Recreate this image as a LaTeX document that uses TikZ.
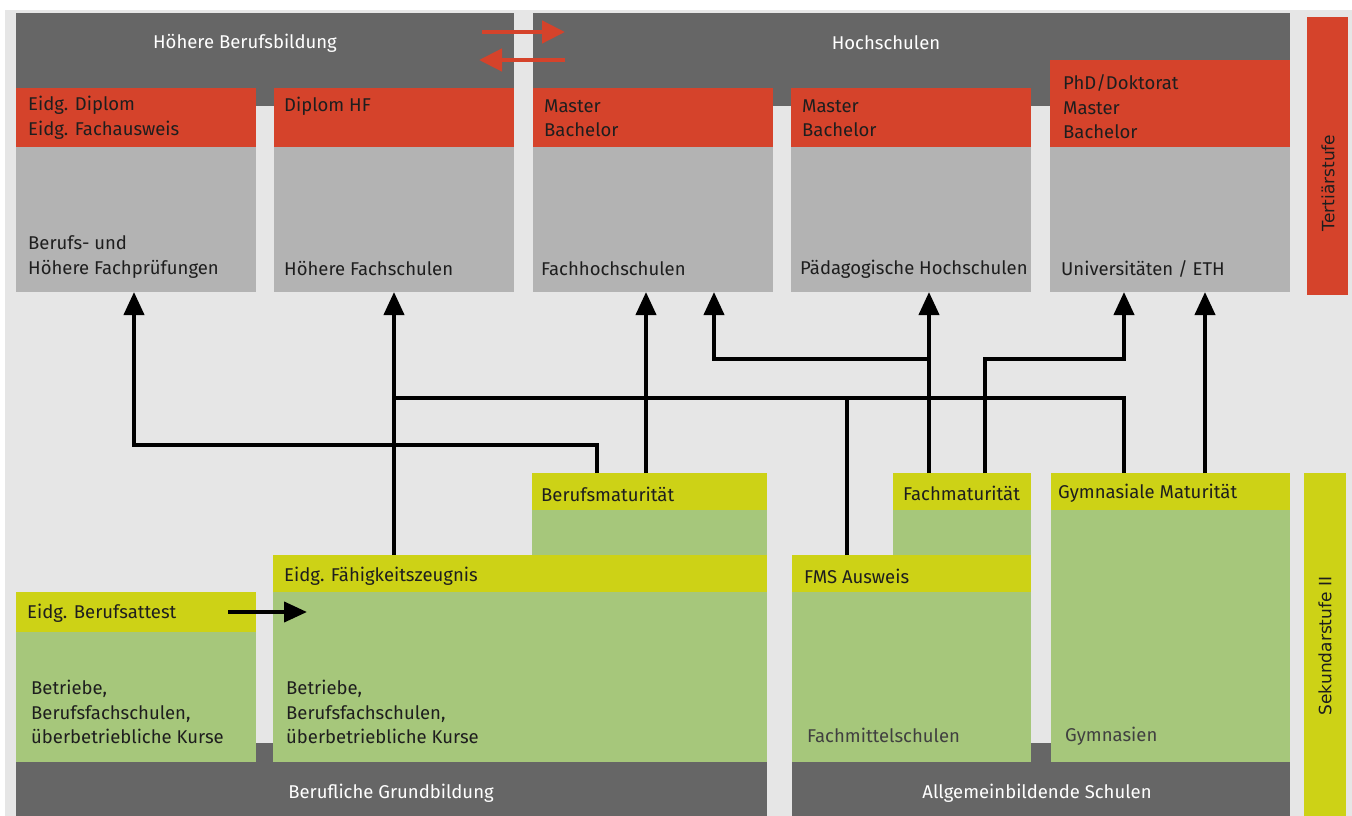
\documentclass[tikz,border=0pt]{standalone}
\usepackage{fontspec}
\setmainfont{Fira Sans}
\newfontfamily\sidefont{DejaVu Sans}
\usepackage{tikz}
\usetikzlibrary{arrows.meta}
\definecolor{bgc}{HTML}{E6E6E6}
\definecolor{dkc}{HTML}{666666}
\definecolor{redc}{HTML}{D5432B}
\definecolor{gyc}{HTML}{B3B3B3}
\definecolor{ylc}{HTML}{CDD216}
\definecolor{gnc}{HTML}{A6C77B}
\definecolor{txc}{HTML}{1E1E1E}

\begin{document}
\begin{tikzpicture}[x=1pt,y=-1pt,
		blk/.style={anchor=north west,inner sep=0pt,outer sep=0pt,minimum width=240pt},
		txt/.style={anchor=west,inner sep=0pt,align=left,font=\fontsize{18.5}{24.5}\selectfont,text=txc},
		hd/.style={inner sep=0pt,font=\fontsize{18.5}{24}\selectfont,text=white},
		side/.style={inner sep=0pt,rotate=90,font=\sidefont\fontsize{17}{19}\selectfont,text=txc},
		conn/.style={line width=4pt,-{Triangle[width=20pt,length=23pt]}},
		link/.style={line width=4pt},
		rarr/.style={line width=4.5pt,redc,-{Triangle[width=22pt,length=23pt]}}]
	\useasboundingbox (0,0) rectangle (1352,816);
	\fill[bgc] (5,10) rectangle (1352,816);
	% Tertiaerstufe
	\node[blk,fill=dkc,minimum width=498pt,minimum height=93pt] (hbb) at (16,13) {};
	\node[blk,fill=dkc,minimum width=757pt,minimum height=93pt] (hs) at (533,13) {};
	\node[blk,fill=redc,minimum height=59pt] (dip) at (16,88) {};
	\node[blk,fill=redc,minimum height=59pt] (dhf) at (274,88) {};
	\node[blk,fill=redc,minimum height=59pt] (mfh) at (533,88) {};
	\node[blk,fill=redc,minimum height=59pt] (mph) at (791,88) {};
	\node[blk,fill=redc,minimum height=87pt] (phd) at (1050,60) {};
	\node[blk,fill=gyc,minimum height=145pt] (bhf) at (16,147) {};
	\node[blk,fill=gyc,minimum height=145pt] (hf) at (274,147) {};
	\node[blk,fill=gyc,minimum height=145pt] (fh) at (533,147) {};
	\node[blk,fill=gyc,minimum height=145pt] (ph) at (791,147) {};
	\node[blk,fill=gyc,minimum height=145pt] (uni) at (1050,147) {};
	\node[blk,fill=redc,minimum width=41pt,minimum height=278pt] (ter) at (1307,17) {};
	% Sekundarstufe II
	\node[blk,fill=dkc,minimum width=751pt,minimum height=73pt] (bgb) at (16,743) {};
	\node[blk,fill=dkc,minimum width=498pt,minimum height=73pt] (abs) at (792,743) {};
	\node[blk,fill=gnc,minimum height=130pt] (attg) at (16,632) {};
	\node[blk,fill=ylc,minimum height=40pt] (att) at (16,592) {};
	\node[blk,fill=gnc,minimum width=235pt,minimum height=45pt] (bmg) at (532,510) {};
	\node[blk,fill=ylc,minimum width=235pt,minimum height=37pt] (bm) at (532,473) {};
	\node[blk,fill=gnc,minimum width=494pt,minimum height=170pt] (efzg) at (273,592) {};
	\node[blk,fill=ylc,minimum width=494pt,minimum height=37pt] (efz) at (273,555) {};
	\node[blk,fill=gnc,minimum width=138pt,minimum height=45pt] (fmg) at (893,510) {};
	\node[blk,fill=ylc,minimum width=138pt,minimum height=37pt] (fm) at (893,473) {};
	\node[blk,fill=gnc,minimum width=239pt,minimum height=170pt] (fmsg) at (792,592) {};
	\node[blk,fill=ylc,minimum width=239pt,minimum height=37pt] (fms) at (792,555) {};
	\node[blk,fill=gnc,minimum width=239pt,minimum height=252pt] (gmg) at (1051,510) {};
	\node[blk,fill=ylc,minimum width=239pt,minimum height=37pt] (gm) at (1051,473) {};
	\node[blk,fill=ylc,minimum width=42pt,minimum height=343pt] (sek) at (1304,473) {};
	% labels
	\node[hd] (l1) at (245,43) {Höhere Berufsbildung};
	\node[hd] (l2) at (886,43) {Hochschulen};
	\node[txt] (l3) at (28,118) {Eidg. Diplom\\Eidg. Fachausweis};
	\node[txt] (l4) at (284,106) {Diplom HF};
	\node[txt] (l5) at (544,118) {Master\\Bachelor};
	\node[txt] (l6) at (802,118) {Master\\Bachelor};
	\node[txt] (l7) at (1063,107) {PhD/Doktorat\\Master\\Bachelor};
	\node[txt] (l8) at (28,257) {Berufs- und\\Höhere Fachprüfungen};
	\node[txt] (l9) at (284,269) {Höhere Fachschulen};
	\node[txt] (l10) at (541,269) {Fachhochschulen};
	\node[txt] (l11) at (800,269) {Pädagogische Hochschulen};
	\node[txt] (l12) at (1061,269) {Universitäten / ETH};
	\node[side] (l13) at (1328,183) {Tertiärstufe};
	\node[txt] (l14) at (541,494) {Berufsmaturität};
	\node[txt] (l15) at (903,493) {Fachmaturität};
	\node[txt] (l16) at (1058,493) {Gymnasiale Maturität};
	\node[txt] (l17) at (284,576) {Eidg. Fähigkeitszeugnis};
	\node[txt] (l18) at (804,576) {FMS Ausweis};
	\node[txt] (l19) at (27,613) {Eidg. Berufsattest};
	\node[txt] (l20) at (31,712) {Betriebe,\\Berufsfachschulen,\\überbetriebliche Kurse};
	\node[txt] (l21) at (286,712) {Betriebe,\\Berufsfachschulen,\\überbetriebliche Kurse};
	\node[txt,text=black!75] (l22) at (807,735) {Fachmittelschulen};
	\node[txt,text=black!75] (l23) at (1065,736) {Gymnasien};
	\node[hd] (l24) at (391,793) {Berufliche Grundbildung};
	\node[hd] (l25) at (1037,793) {Allgemeinbildende Schulen};
	\node[side] (l26) at (1325,646) {Sekundarstufe II};
	% connectors
	\coordinate (ra) at (482,32); \coordinate (rb) at (565,32);
	\coordinate (rc) at (565,60); \coordinate (rd) at (479,60);
	\draw[rarr] (ra) -- (rb);
	\draw[rarr] (rc) -- (rd);
	\coordinate (k1) at (597,445); \coordinate (k2) at (134,445);
	\coordinate (k3) at (646,445);
	\coordinate (k4) at (394,398); \coordinate (k5) at (847,398); \coordinate (k6) at (1124,398);
	\coordinate (k7) at (929,359); \coordinate (k8) at (714,359);
	\coordinate (k9) at (985,359); \coordinate (k10) at (1124,359);
	\coordinate (k11) at (1205,398);
	\coordinate (k12) at (228,612); \coordinate (k13) at (307,612);
	\draw[conn] (k1 |- bm.north) -- (k1) -- (k2) -- (k2 |- bhf.south);
	\draw[conn] (k3 |- bm.north) -- (k3 |- fh.south);
	\draw[conn] (k4 |- efz.north) -- (k4 |- hf.south);
	\draw[link] (k5 |- fms.north) -- (k5) -- (k4);
	\draw[link] (k6 |- gm.north) -- (k6) -- (k5);
	\draw[conn] (k7 |- fm.north) -- (k7 |- ph.south);
	\draw[conn] (k7) -- (k8) -- (k8 |- fh.south);
	\draw[conn] (k9 |- fm.north) -- (k9) -- (k10) -- (k10 |- uni.south);
	\draw[conn] (k11 |- gm.north) -- (k11 |- uni.south);
	\draw[conn] (k12) -- (k13);
\end{tikzpicture}
\end{document}
